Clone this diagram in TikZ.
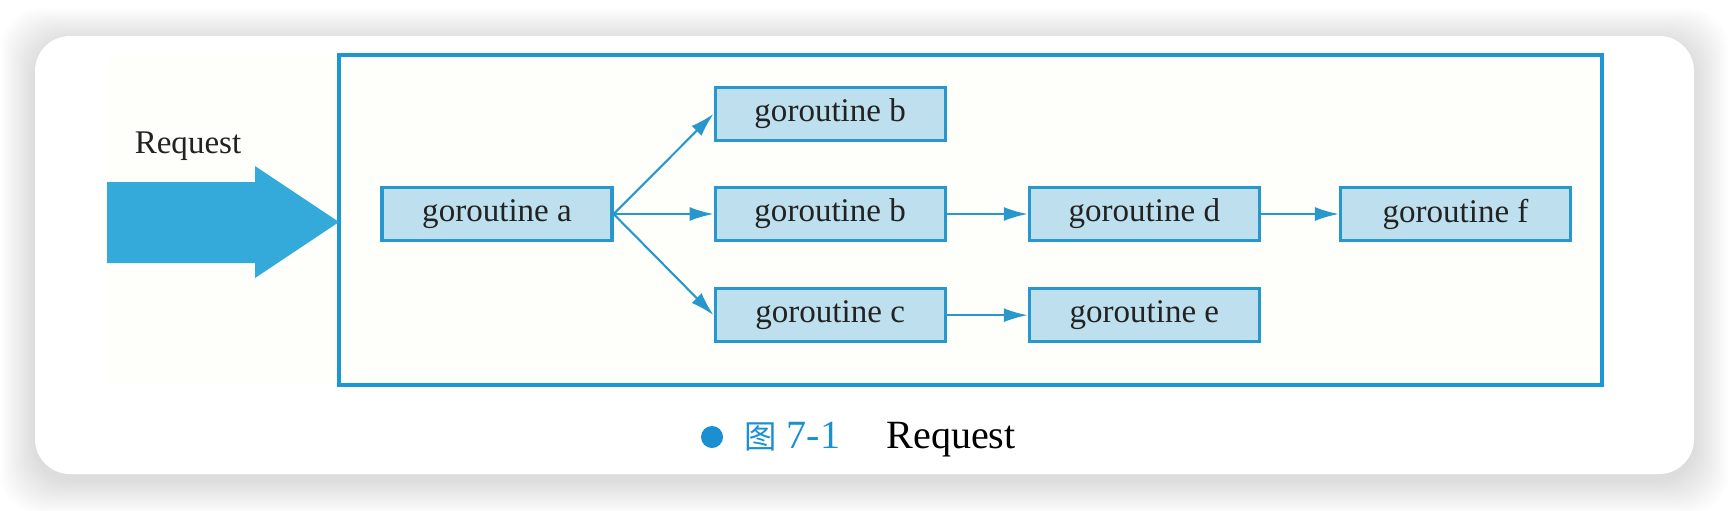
\documentclass[tikz,border=0pt]{standalone}
\usepackage{fontspec}
\setmainfont{Liberation Serif}
\newfontfamily\cjk{Noto Sans CJK SC}
\usetikzlibrary{positioning,arrows.meta}
\definecolor{boxfill}{RGB}{190,224,238}
\definecolor{boxline}{RGB}{40,152,204}
\definecolor{frameline}{RGB}{28,150,212}
\definecolor{bigarrow}{RGB}{52,170,218}
\definecolor{capblue}{RGB}{26,144,208}
\definecolor{paper}{RGB}{254,254,251}
\definecolor{textgray}{RGB}{34,34,34}

\tikzset{
  gbox/.style={draw=boxline, line width=0.9pt, fill=boxfill, minimum width=2.3cm,
    minimum height=0.53cm, inner sep=0pt, text=textgray, font=\fontsize{9.4}{11}\selectfont},
  flow/.style={-{Latex[length=2.4mm,width=1.4mm]}, boxline, line width=0.6pt},
}

\begin{document}
\begin{tikzpicture}
    \useasboundingbox (0,0) rectangle (17.3,5.1);

    % Card and its shadow
    \foreach \s in {0.02,0.04,...,0.34}
        \fill[black, opacity=0.008, rounded corners=0.4cm] (0.35-\s,0.30-\s) rectangle (16.94+\s,4.68+\s);
    \fill[white, rounded corners=0.35cm] (0.35,0.36) rectangle (16.94,4.74);
    \fill[paper] (1.07,1.25) rectangle (16.02,4.55);

    % Outer frame
    \draw[frameline, line width=1.1pt] (3.39,1.25) rectangle (16.02,4.55);

    % Incoming request
    \fill[bigarrow] (1.07,2.47) -- (2.55,2.47) -- (2.55,2.32) -- (3.39,2.88)
        -- (2.55,3.44) -- (2.55,3.28) -- (1.07,3.28) -- cycle;
    \node[text=textgray, font=\fontsize{9.4}{11}\selectfont] (req) at (1.88,3.64) {Request};

    % Goroutines
    \node[gbox] (a) at (4.97,2.96) {goroutine a};
    \node[gbox, right=1.0cm of a] (b2) {goroutine b};
    \node[gbox, above=0.44cm of b2] (b1) {goroutine b};
    \node[gbox, below=0.45cm of b2] (c) {goroutine c};
    \node[gbox, right=0.81cm of b2] (d) {goroutine d};
    \node[gbox, right=0.81cm of c] (e) {goroutine e};
    \node[gbox, right=0.78cm of d] (f) {goroutine f};

    \draw[flow] (a.east) -- (b1.west);
    \draw[flow] (a.east) -- (b2.west);
    \draw[flow] (a.east) -- (c.west);
    \draw[flow] (b2) -- (d);
    \draw[flow] (c) -- (e);
    \draw[flow] (d) -- (f);

    % Caption
    \node[circle, fill=capblue, minimum size=0.22cm, inner sep=0pt] (dot) at (7.12,0.73) {};
    \node[right=0.2cm of dot, inner sep=0pt, text=capblue, font=\fontsize{11.4}{13}\selectfont] (fig)
        {{\cjk\fontsize{9.2}{13}\selectfont 图}\hspace{0.1cm}7-1};
    \node[base right=0.45cm of fig, inner sep=0pt, font=\fontsize{11.4}{13}\selectfont] (cap) {Request};
\end{tikzpicture}
\end{document}
